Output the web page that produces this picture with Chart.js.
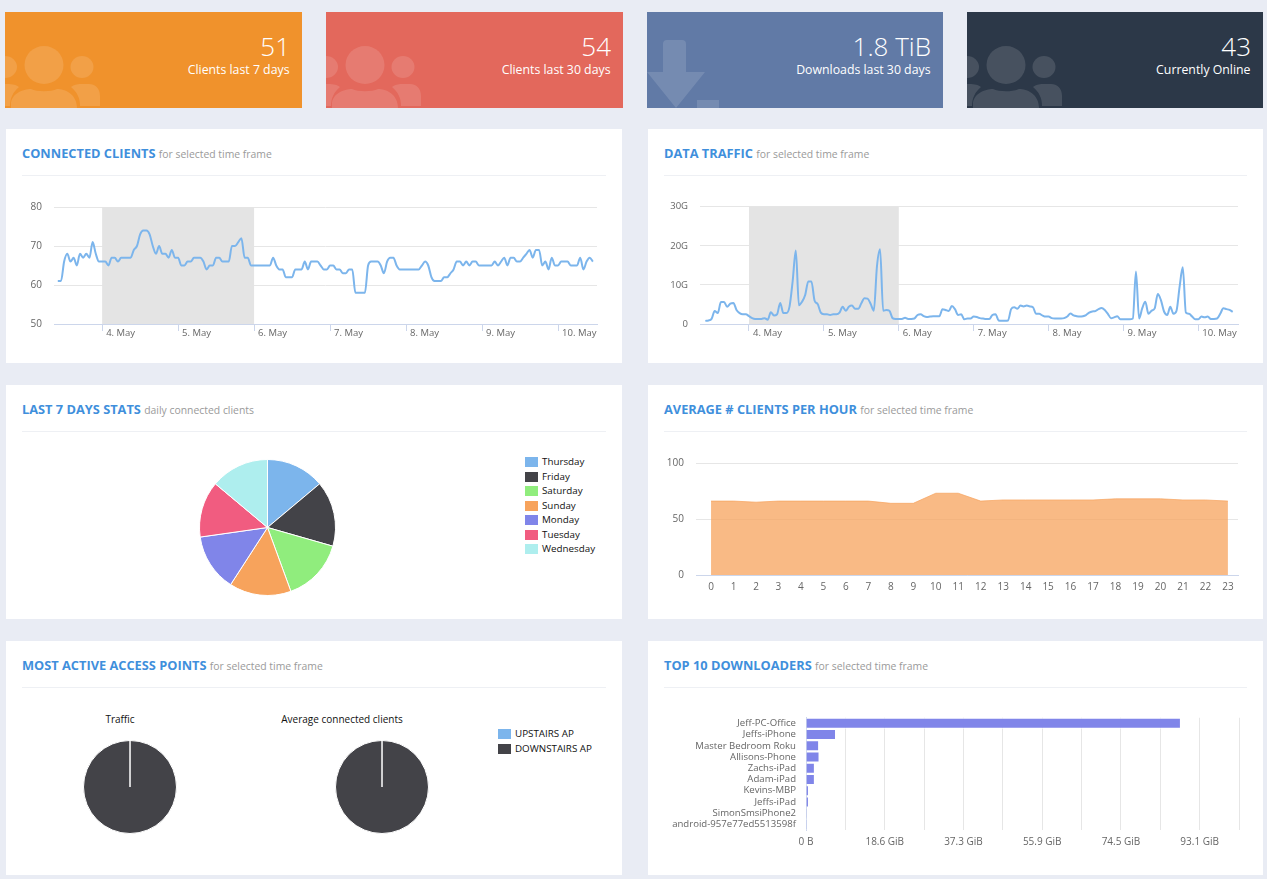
<!DOCTYPE html>
<html>
<head>
<meta charset="utf-8">
<title>Dashboard</title>
<script src="https://cdn.jsdelivr.net/npm/chart.js@4/dist/chart.umd.min.js"></script>
<style>
  html, body { margin: 0; padding: 0; background: #e9ecf4; font-family: "Open Sans", sans-serif; overflow: hidden; }
  .stat { position: absolute; top: 12px; height: 96px; color: #fff; text-align: right; overflow: hidden; }
  .stat svg { position: absolute; left: 0; top: 0; width: 100%; height: 100%; fill: rgba(255,255,255,.13); }
  .stat .num { position: absolute; right: 12px; top: 17px; font-size: 26px; font-weight: 300; line-height: 34px; }
  .stat .txt { position: absolute; right: 12.5px; top: 49px; font-size: 12.3px; line-height: 18px; }
  .panel { position: absolute; background: #fff; height: 234px; }
  .panel h3 { position: absolute; left: 16px; top: 15px; margin: 0; font-size: 12.8px; line-height: 18px; font-weight: 700; color: #3f8fdc; white-space: nowrap; }
  .panel h3 small { font-size: 10.4px; font-weight: 400; color: #9a9a9a; }
  .panel hr { position: absolute; left: 16px; right: 16px; top: 46px; margin: 0; border: 0; border-top: 1px solid #eef0f4; }
  canvas { position: absolute; }
  .legend { position: absolute; font-size: 9.8px; color: #111; }
  .legend div { position: relative; height: 14.5px; line-height: 14.5px; padding-left: 17px; white-space: nowrap; }
  .legend i { position: absolute; left: 0; top: 2px; width: 13px; height: 10px; }
  .pietitle { position: absolute; top: 71px; width: 200px; text-align: center; font-size: 10px; line-height: 14px; color: #111; }
</style>
</head>
<body>

<div class="stat" style="left:5px;width:297px;background:#f0922c"><svg><use href="#users"/></svg><div class="num">51</div><div class="txt">Clients last 7 days</div></div>
<div class="stat" style="left:326px;width:297px;background:#e3685c"><svg><use href="#users"/></svg><div class="num">54</div><div class="txt">Clients last 30 days</div></div>
<div class="stat" style="left:647px;width:296px;background:#617aa6"><svg><path d="M16 32q0-4 4-4h15q4 0 4 4v28h19L29 96 0 60h16zM50 88h22v8H50z"/></svg><div class="num">1.8 TiB</div><div class="txt">Downloads last 30 days</div></div>
<div class="stat" style="left:967px;width:296px;background:#2c3848"><svg><use href="#users"/></svg><div class="num">43</div><div class="txt">Currently Online</div></div>

<svg width="0" height="0" style="position:absolute"><defs><g id="users">
  <ellipse cx="39" cy="53" rx="19.5" ry="19"/><ellipse cx="77" cy="55" rx="11.5" ry="11"/><ellipse cx="0" cy="55" rx="12" ry="11"/>
  <path d="M6 96v-4c0-10 12-15 20-15 6 3 20 3 26 0 8 0 20 5 20 19z"/>
  <path d="M66 75c4-3 8-3 10-3h8c6 0 11 4 11 12v10H75c0-8-3-14-9-19z"/>
  <path d="M14 75c-4-3-8-3-14-3v22h5c0-8 3-14 9-19z"/>
</g></defs></svg>

<div class="panel" style="left:6px;top:129px;width:616px"><h3>CONNECTED CLIENTS <small>for selected time frame</small></h3><hr><canvas id="clientsChart" style="left:0;top:60px"></canvas></div>
<div class="panel" style="left:648px;top:129px;width:615px"><h3>DATA TRAFFIC <small>for selected time frame</small></h3><hr><canvas id="trafficChart" style="left:0;top:60px"></canvas></div>
<div class="panel" style="left:6px;top:385px;width:616px"><h3>LAST 7 DAYS STATS <small>daily connected clients</small></h3><hr><canvas id="weekChart" style="left:193px;top:74px"></canvas><div class="legend" id="weekLegend" style="left:519px;top:70px"></div></div>
<div class="panel" style="left:648px;top:385px;width:615px"><h3>AVERAGE # CLIENTS PER HOUR <small>for selected time frame</small></h3><hr><canvas id="hourChart" style="left:0;top:60px"></canvas></div>
<div class="panel" style="left:6px;top:641px;width:616px"><h3>MOST ACTIVE ACCESS POINTS <small>for selected time frame</small></h3><hr>
  <div class="pietitle" style="left:14px">Traffic</div><div class="pietitle" style="left:236px">Average connected clients</div>
  <canvas id="apTrafficChart" style="left:77px;top:99px"></canvas><canvas id="apClientsChart" style="left:329px;top:99px"></canvas><div class="legend" id="apLegend" style="left:492px;top:86px"></div></div>
<div class="panel" style="left:648px;top:641px;width:615px"><h3>TOP 10 DOWNLOADERS <small>for selected time frame</small></h3><hr><canvas id="topChart" style="left:0;top:61px"></canvas></div>

<script>
// hours counted from 3. May 00:00
const timeStartHour = 10;
const dayTicks = [24, 48, 72, 96, 120, 144, 168];
const dayLabels = ['4. May', '5. May', '6. May', '7. May', '8. May', '9. May', '10. May'];
const selectedBand = [24, 72];

const clientCounts = [
  61,61,66,68,66,67,65,68,67,68,67,71,68,66,66,66,65,67,67,66,67,67,67,67,69,70,73,74,74,73,70,68,70,68,68,67,69,67,67,65,
  65,66,66,67,67,67,66,64,65,65,67,67,66,66,66,70,70,71,72,67,67,65,65,65,65,65,65,65,67,65,64,64,62,62,62,64,64,64,66,64,
  66,66,66,65,64,64,65,65,64,64,63,63,64,64,58,58,58,58,65,66,66,66,65,63,66,67,67,65,64,64,64,64,64,64,64,65,66,65,62,61,
  61,61,62,62,63,64,66,66,65,66,65,66,66,65,65,65,65,65,66,65,66,67,65,67,67,66,66,67,68,69,67,69,69,65,66,64,67,65,65,66,
  66,66,65,65,65,67,64,66,67,66
];
const trafficGiga = [
  0.8,0.9,1.3,3.3,2.8,5.6,5.6,4.4,5.2,5.4,3.6,2.8,2.5,2.5,2,1.5,1.3,1.3,1.3,1.5,1.1,3,2.2,2.5,5.4,2.8,2.8,4.5,11,18.8,
  4.8,5.7,7.4,10.9,10.9,6,5.1,2.9,2.5,2.5,2.3,2.5,2.5,2.9,4.4,3.4,4.4,4.7,3.9,3.9,5.3,6.6,6.5,5.1,3.4,14.7,19.1,3.4,3.6,3.4,
  1.5,1.3,1.3,1.3,1.6,1.3,1.3,1.4,2.3,2.5,2,1.8,1.9,2,2,2,3.8,3.6,3.3,4.6,3.8,2.3,2.5,1.2,1.4,1.4,1.9,1.8,1.5,1.4,
  1.3,1.3,2.3,2.5,0.9,0.8,0.8,0.9,3.8,4.3,3.9,4.7,4.5,4.7,4.5,4.3,2.6,2.6,2.2,1.9,1.9,1.5,1.4,1.4,1.4,1.5,1.9,2.7,2.2,2,
  1.9,2,2.3,2.9,3.2,3.3,3.8,4.1,3.6,2.6,1.5,1.7,2,1.2,1.2,1.2,1.2,1.4,13.4,1.4,4,5.7,2.6,3.4,4,7.7,6.1,3.2,2.3,4.4,
  2.6,3.4,9.6,14.5,2.9,2.6,1.9,1.2,1.2,1.9,1.7,1.9,1.3,1.3,1.4,2.6,4,3.8,3.6,3.1
];
const trafficTicks = [0, 10, 20, 30];
const trafficTickLabels = ['0', '10G', '20G', '30G'];

const weekDays = ['Thursday', 'Friday', 'Saturday', 'Sunday', 'Monday', 'Tuesday', 'Wednesday'];
const weekClients = [51, 57, 55, 54, 50, 49, 51];
const weekColors = ['#7cb5ec', '#434348', '#90ed7d', '#f7a35c', '#8085e9', '#f15c80', '#aeeeee'];

const hours = [0,1,2,3,4,5,6,7,8,9,10,11,12,13,14,15,16,17,18,19,20,21,22,23];
const hourClients = [66,66,65,66,66,66,66,66,64,64,73,73,66,67,67,67,67,67,68,68,68,67,67,66];

const apNames = ['UPSTAIRS AP', 'DOWNSTAIRS AP'];
const apTraffic = [0.02, 99.98];
const apClients = [0.02, 99.98];
const apColors = ['#7cb5ec', '#434348'];

const downloaders = ['Jeff-PC-Office', 'Jeffs-iPhone', 'Master Bedroom Roku', 'Allisons-Phone', 'Zachs-iPad', 'Adam-iPad', 'Kevins-MBP', 'Jeffs-iPad', 'SimonSmsiPhone2', 'android-957e77ed5513598f'];
const downloadGiB = [88.7, 7.1, 3.1, 3.2, 2.1, 2.1, 0.7, 0.7, 0.02, 0.01];
const downloadTicks = [0, 9.31, 18.63, 27.94, 37.25, 46.57, 55.88, 65.19, 74.51, 83.82, 93.13, 102.44];
const downloadTickLabels = ['0 B', '', '18.6 GiB', '', '37.3 GiB', '', '55.9 GiB', '', '74.5 GiB', '', '93.1 GiB', ''];

Chart.defaults.font.family = '"Open Sans", sans-serif';
Chart.defaults.font.size = 10;
Chart.defaults.color = '#666';
Chart.defaults.animation = false;
Chart.defaults.responsive = false;
Chart.defaults.plugins.legend.display = false;
Chart.defaults.plugins.tooltip.enabled = false;

const GRID = '#e6e6e6';
const AXIS = '#ccd6eb';

// grey band behind the lines
const bandPlugin = {
  id: 'band',
  beforeDatasetsDraw(chart) {
    const { ctx, chartArea, scales } = chart;
    const from = scales.x.getPixelForValue(selectedBand[0]);
    const to = scales.x.getPixelForValue(selectedBand[1]);
    ctx.save();
    ctx.fillStyle = '#e4e4e4';
    ctx.fillRect(from, chartArea.top, to - from, chartArea.bottom - chartArea.top);
    ctx.restore();
  }
};

function sizeCanvas(id, w, h) {
  const c = document.getElementById(id);
  c.width = w; c.height = h;
  c.style.width = w + 'px'; c.style.height = h + 'px';
  return c;
}

function timeLine(id, width, values, yOpts, xRange, rightPad) {
  new Chart(sizeCanvas(id, width, 165), {
    type: 'line',
    data: { datasets: [{ data: values.map((v, i) => ({ x: timeStartHour + i, y: v })), borderColor: '#7cb5ec', borderWidth: 2, pointRadius: 0, cubicInterpolationMode: 'monotone' }] },
    options: {
      layout: { autoPadding: false, padding: { top: 17, right: rightPad } },
      scales: {
        x: {
          type: 'linear', min: xRange[0], max: xRange[1],
          afterBuildTicks: s => { s.ticks = dayTicks.map(value => ({ value })); },
          afterFit: s => { s.height = 30; },
          grid: { drawOnChartArea: false, color: AXIS, tickLength: 7 },
          border: { color: AXIS },
          ticks: { autoSkip: false, maxRotation: 0, align: 'start', labelOffset: 4, padding: -3, font: { size: 9.5 }, callback: (v, i) => dayLabels[i] }
        },
        y: Object.assign({
          afterFit: s => { s.width = yOpts.width; },
          grid: { color: GRID, drawTicks: false },
          border: { display: false }
        }, yOpts.scale)
      }
    },
    plugins: [bandPlugin]
  });
}

timeLine('clientsChart', 616, clientCounts, {
  width: 48,
  scale: { min: 50, max: 80, ticks: { stepSize: 10, padding: 12 } }
}, [8.8, 180.3], 25);

timeLine('trafficChart', 615, trafficGiga, {
  width: 52,
  scale: {
    min: 0, max: 30,
    afterBuildTicks: s => { s.ticks = trafficTicks.map(value => ({ value })); },
    ticks: { padding: 12, font: { size: 9.5 }, callback: (v, i) => trafficTickLabels[i] }
  }
}, [8.3, 180.7], 25);

new Chart(sizeCanvas('weekChart', 137, 137), {
  type: 'pie',
  data: { labels: weekDays, datasets: [{ data: weekClients, backgroundColor: weekColors, borderColor: '#fff', borderWidth: 1 }] }
});

new Chart(sizeCanvas('hourChart', 615, 165), {
  type: 'line',
  data: { datasets: [{ data: hourClients.map((v, i) => ({ x: hours[i], y: v })), borderColor: 'rgba(247,163,92,.7)', borderWidth: 1, backgroundColor: 'rgba(247,163,92,.75)', fill: 'origin', pointRadius: 0, tension: 0 }] },
  options: {
    layout: { autoPadding: false, padding: { top: 15, right: 25 } },
    scales: {
      x: {
        type: 'linear', min: -0.67, max: 23.45,
        afterBuildTicks: s => { s.ticks = hours.map(value => ({ value })); },
        afterFit: s => { s.height = 35; },
        grid: { display: true, drawOnChartArea: false, drawTicks: false },
        border: { color: AXIS },
        ticks: { autoSkip: false, maxRotation: 0, padding: 6, callback: (v, i) => hours[i] }
      },
      y: {
        min: 0, max: 100,
        afterFit: s => { s.width = 48; },
        grid: { color: GRID, drawTicks: false },
        border: { display: false },
        ticks: { stepSize: 50, padding: 12 }
      }
    }
  }
});

function apPie(id, values) {
  new Chart(sizeCanvas(id, 94, 94), {
    type: 'pie',
    data: { labels: apNames, datasets: [{ data: values, backgroundColor: apColors, borderColor: '#fff', borderWidth: 1 }] }
  });
}
apPie('apTrafficChart', apTraffic);
apPie('apClientsChart', apClients);

new Chart(sizeCanvas('topChart', 615, 156), {
  type: 'bar',
  data: { labels: downloaders, datasets: [{ data: downloadGiB, backgroundColor: '#8085e9', borderColor: '#fff', borderWidth: 1, barPercentage: 0.98, categoryPercentage: 1 }] },
  options: {
    indexAxis: 'y',
    layout: { autoPadding: false, padding: { top: 0, right: 24 } },
    scales: {
      x: {
        min: 0, max: 102.44,
        afterBuildTicks: s => { s.ticks = downloadTicks.map(value => ({ value })); },
        afterFit: s => { s.height = 28; },
        grid: { color: GRID, drawTicks: false },
        border: { display: false },
        ticks: { autoSkip: false, maxRotation: 0, padding: 6, callback: (v, i) => downloadTickLabels[i] }
      },
      y: {
        afterFit: s => { s.width = 158; },
        grid: { display: false, drawTicks: false },
        border: { color: AXIS },
        ticks: { autoSkip: false, padding: 10, font: { size: 9.6 } }
      }
    }
  }
});

function fillLegend(id, names, colors) {
  document.getElementById(id).innerHTML = names.map((n, i) => `<div><i style="background:${colors[i]}"></i>${n}</div>`).join('');
}
fillLegend('weekLegend', weekDays, weekColors);
fillLegend('apLegend', apNames, apColors);
</script>
</body>
</html>
